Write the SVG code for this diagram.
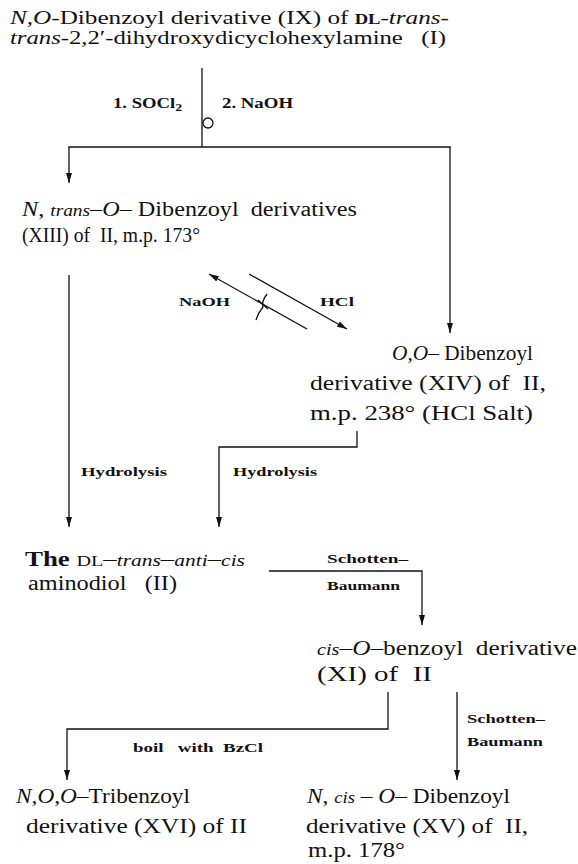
<svg xmlns="http://www.w3.org/2000/svg" width="578" height="864" viewBox="0 0 578 864">
<style>
text{font-family:"Liberation Serif","DejaVu Serif",serif;fill:#111;}
.m{font-size:20px;}
.t{font-size:19px;}
.s{font-size:13.5px;font-weight:bold;}
.r{font-size:15px;font-weight:bold;}
.i{font-style:italic;}
.sc{font-size:14px;font-weight:bold;}
.c line,.c path,.c polyline{stroke:#111;stroke-width:1.3;fill:none;}
</style>
<defs>
<marker id="ah" viewBox="0 0 10 6" refX="10" refY="3" markerWidth="10" markerHeight="6" markerUnits="userSpaceOnUse" orient="auto">
<path d="M0,0 L10,3 L0,6 z" fill="#111"/>
</marker>
</defs>
<rect width="578" height="864" fill="#fff"/>

<g id="n-IX">
<text class="t" x="10" y="24" textLength="439" lengthAdjust="spacingAndGlyphs"><tspan class="i">N,O</tspan>-Dibenzoyl derivative (IX) of <tspan class="sc">DL</tspan>-<tspan class="i">trans</tspan>-</text>
<text class="t" x="10" y="44" textLength="436" lengthAdjust="spacingAndGlyphs"><tspan class="i">trans</tspan>-2,2′-dihydroxydicyclohexylamine&#160;&#160;&#160;(I)</text>
</g>

<g id="n-XIII">
<text class="m" x="22" y="216" textLength="335" lengthAdjust="spacingAndGlyphs"><tspan class="i">N</tspan>, <tspan class="i" font-size="16">trans</tspan>–<tspan class="i">O</tspan>– Dibenzoyl&#160;&#160;derivatives</text>
<text class="m" x="22" y="242" textLength="178" lengthAdjust="spacingAndGlyphs">(XIII) of&#160;&#160;II, m.p. 173°</text>
</g>

<g id="n-XIV">
<text class="m" x="392" y="360" textLength="141" lengthAdjust="spacingAndGlyphs"><tspan class="i">O,O</tspan>– Dibenzoyl</text>
<text class="m" x="310" y="390" textLength="236" lengthAdjust="spacingAndGlyphs">derivative (XIV) of&#160;&#160;II,</text>
<text class="m" x="310" y="420" textLength="223" lengthAdjust="spacingAndGlyphs">m.p. 238° (HCl Salt)</text>
</g>

<g id="n-II">
<text class="m" x="25" y="566" textLength="220" lengthAdjust="spacingAndGlyphs"><tspan font-weight="bold">The</tspan> <tspan font-size="15">DL</tspan>–<tspan class="i" font-size="16">trans</tspan>–<tspan class="i" font-size="16">anti</tspan>–<tspan class="i" font-size="16">cis</tspan></text>
<text class="m" x="28" y="590" textLength="149" lengthAdjust="spacingAndGlyphs">aminodiol&#160;&#160;&#160;(II)</text>
</g>

<g id="n-XI">
<text class="m" x="317" y="655" textLength="260" lengthAdjust="spacingAndGlyphs"><tspan class="i" font-size="16">cis</tspan>–<tspan class="i">O</tspan>–benzoyl&#160;&#160;derivative</text>
<text class="m" x="317" y="681" textLength="115" lengthAdjust="spacingAndGlyphs">(XI) of&#160;&#160;II</text>
</g>

<g id="n-XVI">
<text class="m" x="16" y="803" textLength="174" lengthAdjust="spacingAndGlyphs"><tspan class="i">N,O,O</tspan>–Tribenzoyl</text>
<text class="m" x="26" y="833" textLength="221" lengthAdjust="spacingAndGlyphs">derivative (XVI) of II</text>
</g>

<g id="n-XV">
<text class="m" x="307" y="803" textLength="203" lengthAdjust="spacingAndGlyphs"><tspan class="i">N</tspan>, <tspan class="i" font-size="16">cis</tspan> – <tspan class="i">O</tspan>– Dibenzoyl</text>
<text class="m" x="306" y="833" textLength="222" lengthAdjust="spacingAndGlyphs">derivative (XV) of&#160;&#160;II,</text>
<text class="m" x="308" y="857" textLength="97" lengthAdjust="spacingAndGlyphs">m.p. 178°</text>
</g>

<g id="connectors" class="c">
<line x1="202" y1="68" x2="202" y2="147"/>
<circle cx="208" cy="123" r="5" stroke="#111" stroke-width="1.3" fill="none"/>
<line x1="68.4" y1="147" x2="450.6" y2="147"/>
<line x1="69" y1="147" x2="69" y2="183" marker-end="url(#ah)"/>
<line x1="450" y1="147" x2="450" y2="333" marker-end="url(#ah)"/>
<line x1="307" y1="329" x2="209" y2="274" marker-end="url(#ah)"/>
<line x1="249" y1="274" x2="347" y2="329" marker-end="url(#ah)"/>
<path d="M267,294 Q261,302 263,307 Q258,313 256,320"/>
<path d="M258,300 L268,309"/>
<line x1="69" y1="275" x2="69" y2="527" marker-end="url(#ah)"/>
<polyline points="357,431 357,447 219,447 219,527" marker-end="url(#ah)"/>
<polyline points="269,571 422,571 422,625" marker-end="url(#ah)"/>
<polyline points="388,692 388,729 67,729 67,780" marker-end="url(#ah)"/>
<line x1="457" y1="692" x2="457" y2="780" marker-end="url(#ah)"/>
</g>

<g id="labels">
<text class="r" x="113" y="108" textLength="69" lengthAdjust="spacingAndGlyphs">1. SOCl<tspan font-size="11" dy="3">2</tspan></text>
<text class="r" x="222" y="108" textLength="71" lengthAdjust="spacingAndGlyphs">2. NaOH</text>
<text class="s" x="179" y="306" textLength="51" lengthAdjust="spacingAndGlyphs">NaOH</text>
<text class="s" x="320" y="306" textLength="34" lengthAdjust="spacingAndGlyphs">HCl</text>
<text class="s" x="81" y="476" textLength="86" lengthAdjust="spacingAndGlyphs">Hydrolysis</text>
<text class="s" x="233" y="476" textLength="84" lengthAdjust="spacingAndGlyphs">Hydrolysis</text>
<text class="s" x="327" y="563" textLength="81" lengthAdjust="spacingAndGlyphs">Schotten–</text>
<text class="s" x="327" y="590" textLength="73" lengthAdjust="spacingAndGlyphs">Baumann</text>
<text class="s" x="467" y="723" textLength="78" lengthAdjust="spacingAndGlyphs">Schotten–</text>
<text class="s" x="467" y="746" textLength="76" lengthAdjust="spacingAndGlyphs">Baumann</text>
<text class="s" x="133" y="752" textLength="130" lengthAdjust="spacingAndGlyphs">boil&#160;&#160;&#160;with&#160;&#160;BzCl</text>
</g>
</svg>
